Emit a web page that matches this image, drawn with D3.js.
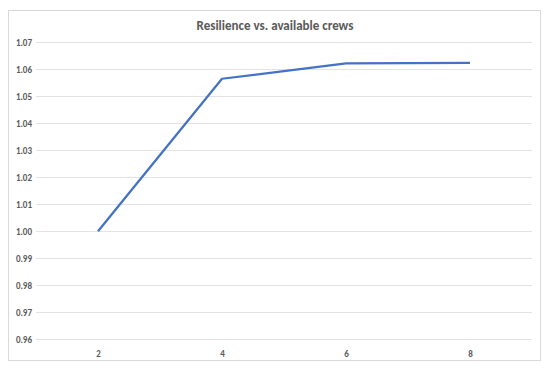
<!DOCTYPE html>
<html>
<head>
<meta charset="utf-8">
<script src="https://cdn.jsdelivr.net/npm/d3@7/dist/d3.min.js"></script>
<style>
  body { margin: 0; background: #fff; }
  text { font-family: Calibri, Carlito, "Open Sans", sans-serif; }
</style>
</head>
<body>
<svg id="chart" width="550" height="371"></svg>
<script>
  // data
  let crews = ['2', '4', '6', '8']
  let resilience = [1.000, 1.0565, 1.0622, 1.0624]
  let yTicks = [0.96, 0.97, 0.98, 0.99, 1.00, 1.01, 1.02, 1.03, 1.04, 1.05, 1.06, 1.07]
  let title = 'Resilience vs. available crews'

  let svg = d3.select('#chart')

  // 外框
  svg.append('rect')
     .attr('x', 8.5).attr('y', 10.5)
     .attr('width', 532).attr('height', 350)
     .attr('fill', '#fff')
     .attr('stroke', '#d9d9d9')
     .attr('stroke-width', 1)

  let plotLeft = 36, plotRight = 532, plotTop = 42.3, plotBottom = 339.3

  let x = d3.scalePoint().domain(crews).range([plotLeft, plotRight]).padding(0.5)
  let y = d3.scaleLinear().domain([0.96, 1.07]).range([plotBottom, plotTop])

  // 网格线
  svg.append('g')
     .selectAll('line')
     .data(yTicks)
     .enter()
     .append('line')
     .attr('x1', plotLeft).attr('x2', plotRight)
     .attr('y1', d => Math.round(y(d)) + 0.5)
     .attr('y2', d => Math.round(y(d)) + 0.5)
     .attr('stroke', '#e3e3e3')
     .attr('stroke-width', 1)

  // y 轴
  let yAxis = svg.append('g')
     .attr('transform', `translate(${plotLeft - 4},0)`)
     .call(d3.axisLeft(y).tickValues(yTicks).tickFormat(d3.format('.2f')).tickSize(0).tickPadding(0))
  yAxis.select('.domain').remove()
  yAxis.selectAll('text')
       .attr('fill', '#595959')
       .style('font-size', '9px')
       .style('font-weight', 'bold')

  // x 轴
  let xAxis = svg.append('g')
     .attr('transform', `translate(0,${plotBottom + 5})`)
     .call(d3.axisBottom(x).tickSize(0).tickPadding(6))
  xAxis.select('.domain').remove()
  xAxis.selectAll('text')
       .attr('fill', '#595959')
       .style('font-size', '9px')
       .style('font-weight', 'bold')

  // 折线
  let line = d3.line()
     .x((d, i) => x(crews[i]))
     .y(d => y(d))
  svg.append('path')
     .datum(resilience)
     .attr('d', line)
     .attr('fill', 'none')
     .attr('stroke', '#4472c4')
     .attr('stroke-width', 2.25)
     .attr('stroke-linejoin', 'round')

  // 标题
  svg.append('text')
     .attr('x', 275).attr('y', 30)
     .attr('text-anchor', 'middle')
     .attr('fill', '#595959')
     .style('font-size', '13px')
     .style('font-weight', 'bold')
     .text(title)
</script>
</body>
</html>
